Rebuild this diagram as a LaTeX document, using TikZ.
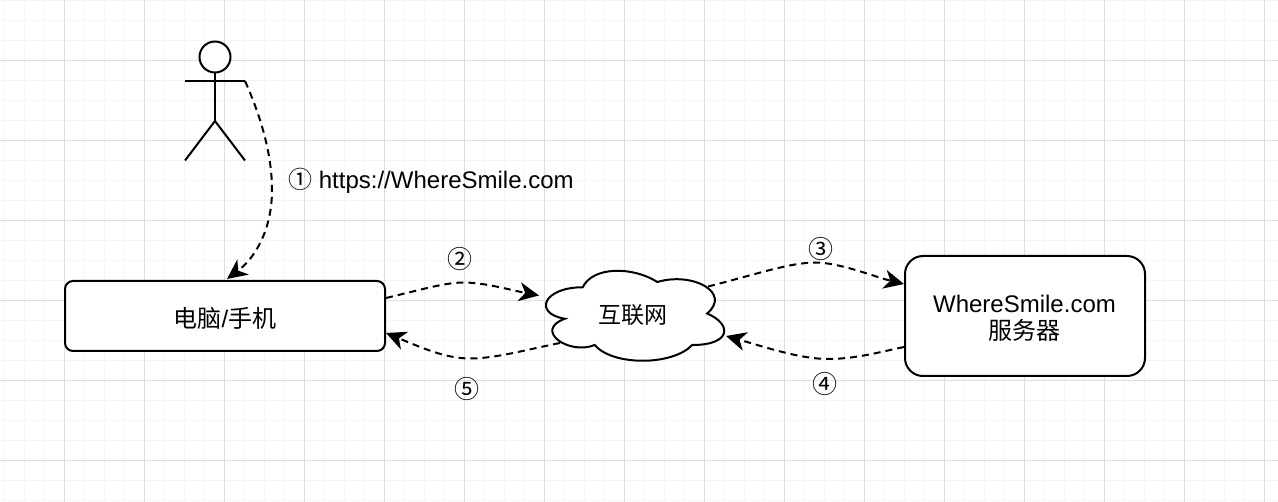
\documentclass[tikz,border=0pt]{standalone}
\usepackage{fontspec}
\setmainfont{Liberation Sans}
\newfontfamily\cjk{Noto Sans CJK SC}
\usetikzlibrary{arrows.meta,calc}
\tikzset{
  x=1pt,y=-1pt,
  stroke/.style={line width=2pt,draw=black},
  box/.style={stroke,fill=white,rounded corners=#1,inner sep=0pt,align=center,font=\fontsize{24}{28}\selectfont},
  flow/.style={line width=2pt,dash pattern=on 7pt off 5pt,-{Stealth[length=20pt,width=19pt,inset=6pt]}},
  label/.style={inner sep=0pt,font=\fontsize{24}{28}\selectfont},
  num/.style={label,font=\fontsize{25}{28}\selectfont\cjk},
  minorline/.style={line width=1pt,draw=black!4},
  majorline/.style={line width=1pt,draw=black!13},
}
\begin{document}
\begin{tikzpicture}
\useasboundingbox (0,0) rectangle (1278,502);
\fill[white] (0,0) rectangle (1278,502);
% grid
\foreach \i in {0,...,63} {\draw[minorline] ({4.5+20*\i},0) -- ({4.5+20*\i},502);}
\foreach \i in {0,...,25} {\draw[minorline] (0,{0.5+20*\i}) -- (1278,{0.5+20*\i});}
\foreach \i in {0,...,15} {\draw[majorline] ({64.5+80*\i},0) -- ({64.5+80*\i},502);}
\foreach \i in {0,...,5} {\draw[majorline] (0,{60.5+80*\i}) -- (1278,{60.5+80*\i});}
% actor
\node[circle,stroke,fill=white,minimum size=31pt,inner sep=0pt] (head) at (215,57) {};
\coordinate (hip) at (215,121);
\coordinate (armL) at (185,81);
\coordinate (armR) at (245,81);
\coordinate (legL) at (185,160.5);
\coordinate (legR) at (245,160.5);
\draw[stroke] (head.south) -- (hip);
\draw[stroke] (armL) -- (armR);
\draw[stroke] (legL) -- (hip) -- (legR);
% boxes
\node[box=8pt,minimum width=320pt,minimum height=70pt] (pc) at (225,316) {};
\node[box=18pt,minimum width=240pt,minimum height=120pt] (srv) at (1025,316) {};
\node[label] (pct) at (225,318) {{\cjk 电脑}/{\cjk 手机}};
\node[label,align=center] (srvt) at (1024.5,318) {WhereSmile.com\\[-1pt]{\cjk 服务器}};
% cloud
\begin{scope}[shift={(533,261)},x=199pt,y=-105pt]
\draw[stroke,fill=white] (0.25,0.25)
  .. controls (0.05,0.25) and (0,0.5) .. (0.16,0.55)
  .. controls (0,0.66) and (0.18,0.9) .. (0.31,0.8)
  .. controls (0.4,1) and (0.7,1) .. (0.8,0.8)
  .. controls (1,0.8) and (1,0.6) .. (0.875,0.5)
  .. controls (1,0.3) and (0.8,0.1) .. (0.625,0.2)
  .. controls (0.5,0.05) and (0.3,0.05) .. (0.25,0.25) -- cycle;
\end{scope}
\node[label,font=\fontsize{23}{28}\selectfont\cjk] (net) at (633,315) {互联网};
\coordinate (netL) at (539,295.5);
\coordinate (netLb) at (560,343);
\coordinate (netR) at (708,286.5);
\coordinate (netRb) at (726,336);
% connectors
\draw[flow] (armR) .. controls (258,110) and (272,150) .. (272,190)
  .. controls (272,230) and (255,258) .. ($(pc.north)+(2,-1)$);
\draw[flow] ($(pc.east)+(0,-18)$) .. controls (420,290) and (445,282.5) .. (463,282.5)
  .. controls (485,282.5) and (510,290) .. (netL);
\draw[flow] (netLb) .. controls (525,350) and (495,358.5) .. (470,358.5)
  .. controls (445,358.5) and (420,347) .. ($(pc.east)+(0,17)$);
\draw[flow] (netR) .. controls (750,276) and (790,262.5) .. (815,262.5)
  .. controls (840,262.5) and (875,277) .. ($(srv.west)+(0,-32)$);
\draw[flow] ($(srv.west)+(0,31)$) .. controls (880,352) and (855,359) .. (828,359)
  .. controls (800,359) and (765,347) .. (netRb);
% labels
\node[label,anchor=west] (l1) at (288,180.5) {{\cjk ①} https://WhereSmile.com};
\node[num] (n2) at (460,259) {②};
\node[num] (n3) at (821,249) {③};
\node[num] (n4) at (825,384) {④};
\node[num] (n5) at (467,389) {⑤};
\end{tikzpicture}
\end{document}
